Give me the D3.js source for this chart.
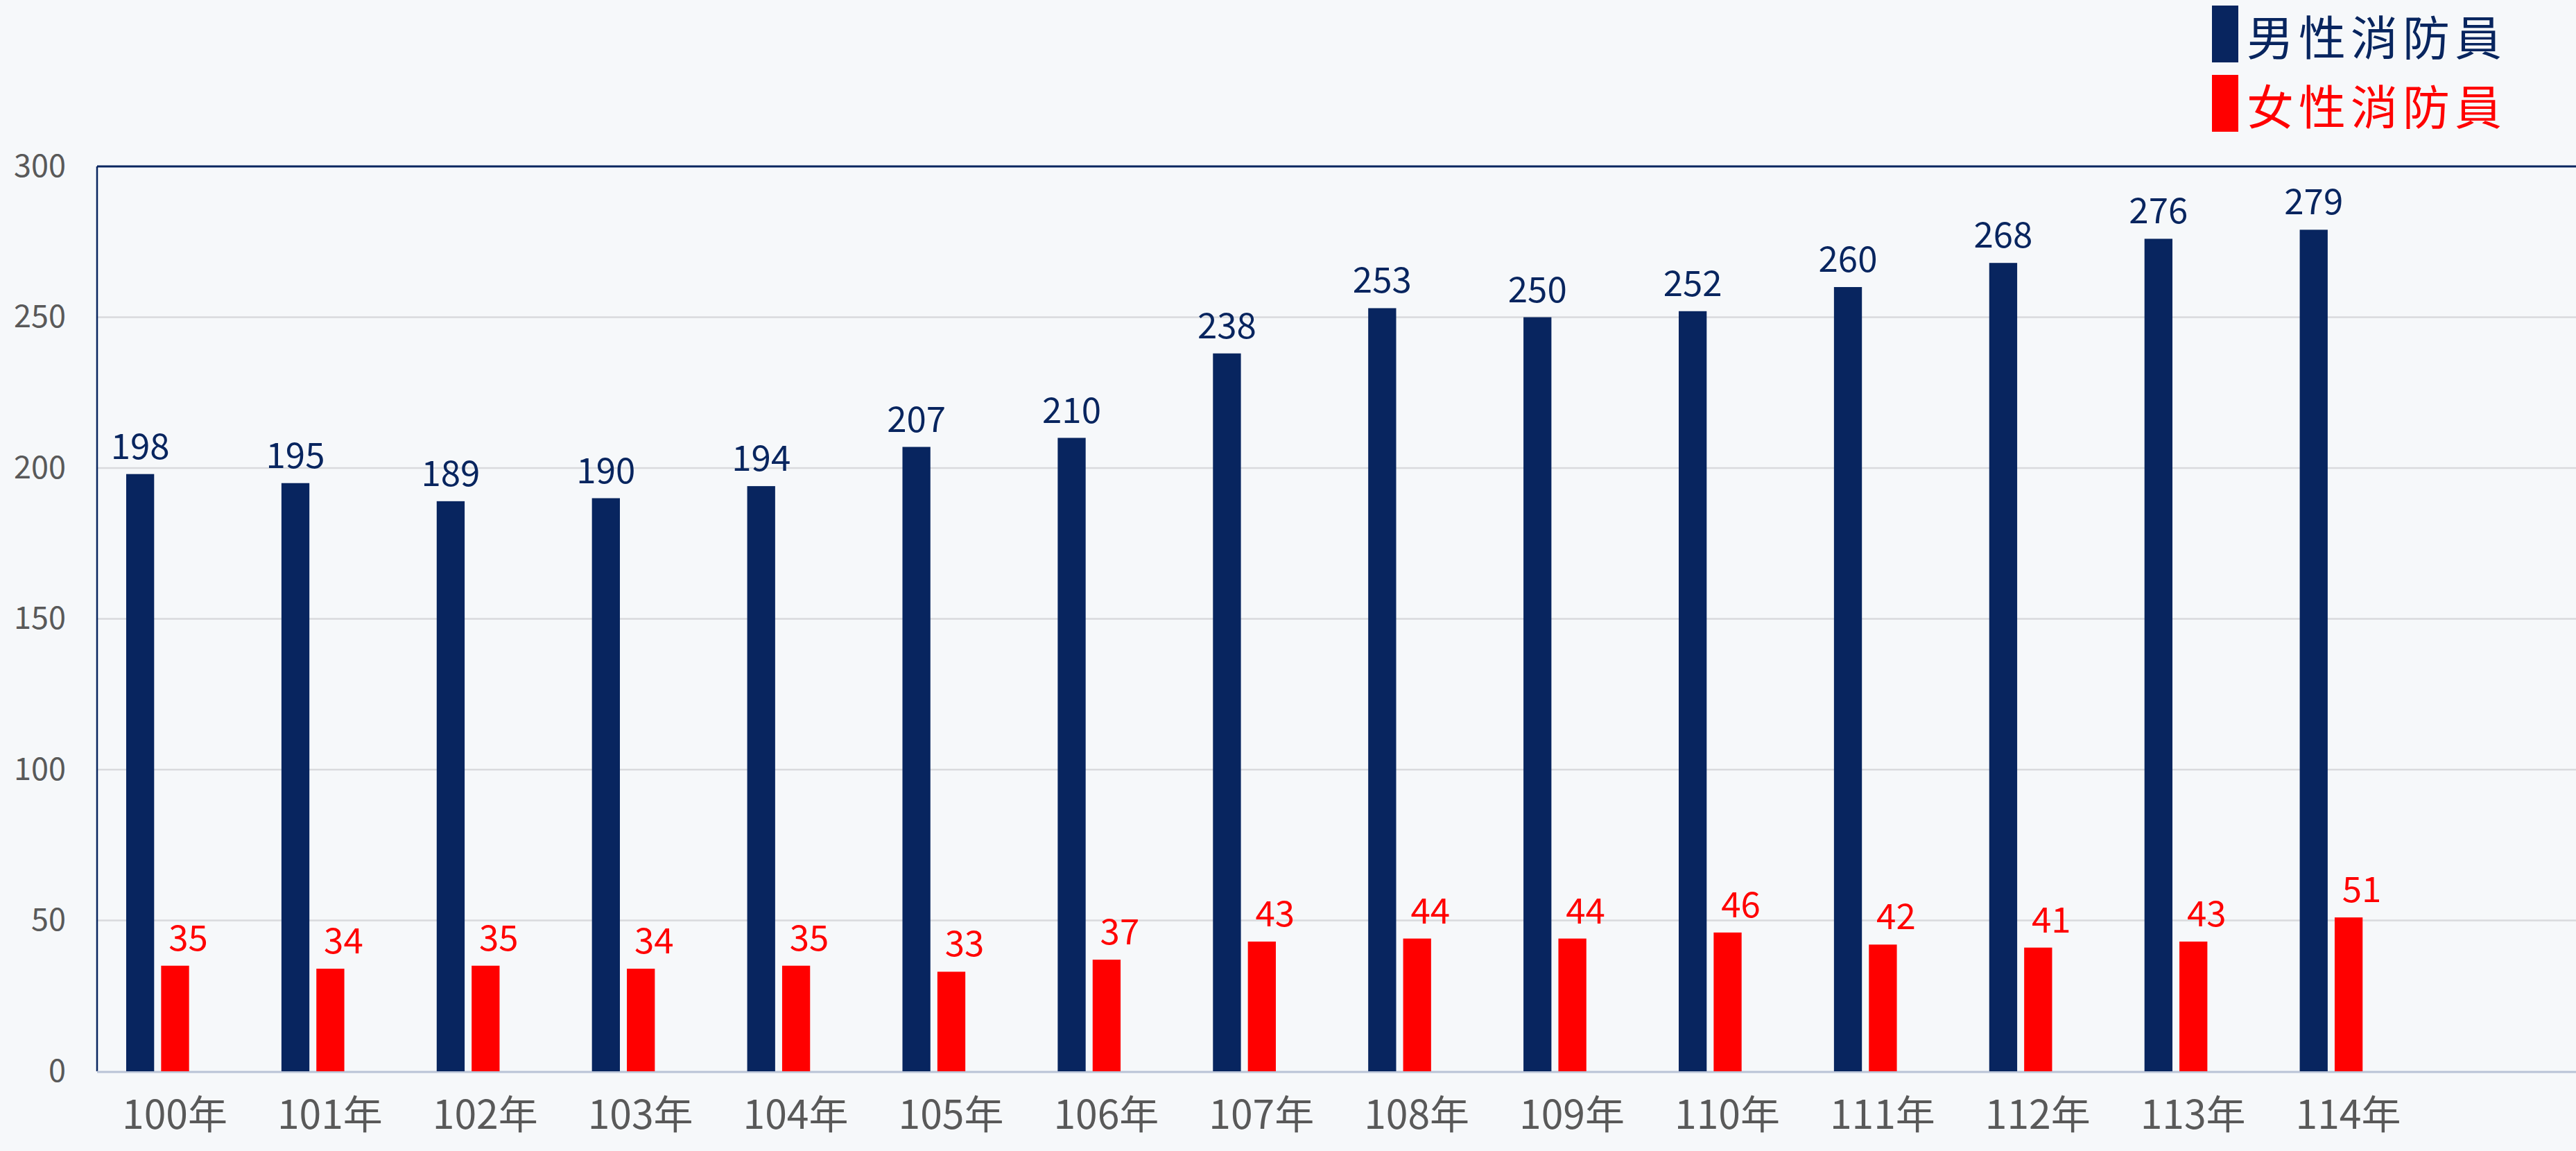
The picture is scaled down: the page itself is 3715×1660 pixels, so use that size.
<!DOCTYPE html>
<html>
<head>
<meta charset="utf-8">
<script src="https://cdn.jsdelivr.net/npm/d3@7"></script>
<style>
  html, body { margin: 0; padding: 0; background: #f6f8fa; }
  svg { display: block; }
  text { font-family: "Noto Sans CJK TC", "Noto Sans", sans-serif; }
</style>
</head>
<body>
<script>
const categories = ["100年","101年","102年","103年","104年","105年","106年","107年","108年","109年","110年","111年","112年","113年","114年"];
const maleValues = [198,195,189,190,194,207,210,238,253,250,252,260,268,276,279];
const femaleValues = [35,34,35,34,35,33,37,43,44,44,46,42,41,43,51];
const yTicks = [0,50,100,150,200,250,300];
const seriesNames = ["男性消防員","女性消防員"];
const seriesColors = ["#08255f","#ff0000"];

const W = 3715, H = 1660;
const plot = { left: 140, top: 240, bottom: 1545, right: 3715 };
const step = 223.9;

const svg = d3.select("body").append("svg").attr("width", W).attr("height", H);
svg.append("rect").attr("width", W).attr("height", H).attr("fill", "#f6f8fa");

const x = d3.scaleBand().domain(categories)
  .range([plot.left, plot.left + step * categories.length]).padding(0);
// inner slots: male, female, and an empty third slot (as in the source chart)
const xi = d3.scaleBand().domain(["m","f","e"])
  .range([step * 0.1875, step * 0.8175]).paddingInner(0.2);
const y = d3.scaleLinear().domain([0, 300]).range([plot.bottom, plot.top]);

// gridlines
svg.append("g").selectAll("line").data(yTicks.filter(t => t > 0 && t < 300)).join("line")
  .attr("x1", plot.left).attr("x2", plot.right)
  .attr("y1", d => y(d)).attr("y2", d => y(d))
  .attr("stroke", "#d9dadd").attr("stroke-width", 2.5);

// y axis labels
const yAxis = d3.axisLeft(y).tickValues(yTicks).tickSize(0).tickPadding(0);
const gy = svg.append("g").attr("transform", `translate(95,0)`).call(yAxis);
gy.select(".domain").remove();
gy.selectAll("text").attr("fill", "#595959").attr("font-size", 45)
  .attr("font-family", '"Noto Sans CJK TC", sans-serif');

// x axis labels
const xAxis = d3.axisBottom(x).tickSize(0).tickPadding(0);
const gx = svg.append("g").attr("transform", `translate(0,1588)`).call(xAxis);
gx.select(".domain").remove();
gx.selectAll("text").attr("fill", "#595959").attr("font-size", 57)
  .attr("font-family", '"Noto Sans CJK TC", sans-serif');

// frame
svg.append("line").attr("x1", plot.left).attr("x2", plot.right)
  .attr("y1", plot.top).attr("y2", plot.top).attr("stroke", "#08255f").attr("stroke-width", 3);
svg.append("line").attr("x1", plot.left).attr("x2", plot.left)
  .attr("y1", plot.top).attr("y2", plot.bottom).attr("stroke", "#08255f").attr("stroke-width", 2.5);
svg.append("line").attr("x1", plot.left).attr("x2", plot.right)
  .attr("y1", plot.bottom + 1).attr("y2", plot.bottom + 1).attr("stroke", "#b9c3d6").attr("stroke-width", 3);

// bars
const gm = svg.append("g");
gm.selectAll("rect").data(maleValues).join("rect")
  .attr("x", (d, i) => x(categories[i]) + xi("m"))
  .attr("width", xi.bandwidth())
  .attr("y", d => y(d)).attr("height", d => y(0) - y(d))
  .attr("fill", seriesColors[0]);
gm.selectAll("text").data(maleValues).join("text")
  .attr("x", (d, i) => x(categories[i]) + xi("m") + xi.bandwidth() / 2)
  .attr("y", d => y(d) - 22)
  .attr("text-anchor", "middle").attr("font-size", 51).attr("fill", seriesColors[0])
  .text(d => d);

const gf = svg.append("g");
gf.selectAll("rect").data(femaleValues).join("rect")
  .attr("x", (d, i) => x(categories[i]) + xi("f"))
  .attr("width", xi.bandwidth())
  .attr("y", d => y(d)).attr("height", d => y(0) - y(d))
  .attr("fill", seriesColors[1]);
gf.selectAll("text").data(femaleValues).join("text")
  .attr("x", (d, i) => x(categories[i]) + xi("f") + xi.bandwidth() / 2 + 19)
  .attr("y", d => y(d) - 22)
  .attr("text-anchor", "middle").attr("font-size", 51).attr("fill", seriesColors[1])
  .text(d => d);

// legend
const lg = svg.append("g");
seriesNames.forEach((name, i) => {
  const gy0 = 8 + i * 100;
  lg.append("rect").attr("x", 3190).attr("y", gy0).attr("width", 38).attr("height", 82)
    .attr("fill", seriesColors[i]);
  lg.append("text").attr("x", 3240).attr("y", gy0 + 72)
    .attr("font-size", 68).attr("textLength", 368).attr("lengthAdjust", "spacing")
    .attr("fill", seriesColors[i]).text(name);
});
</script>
</body>
</html>
